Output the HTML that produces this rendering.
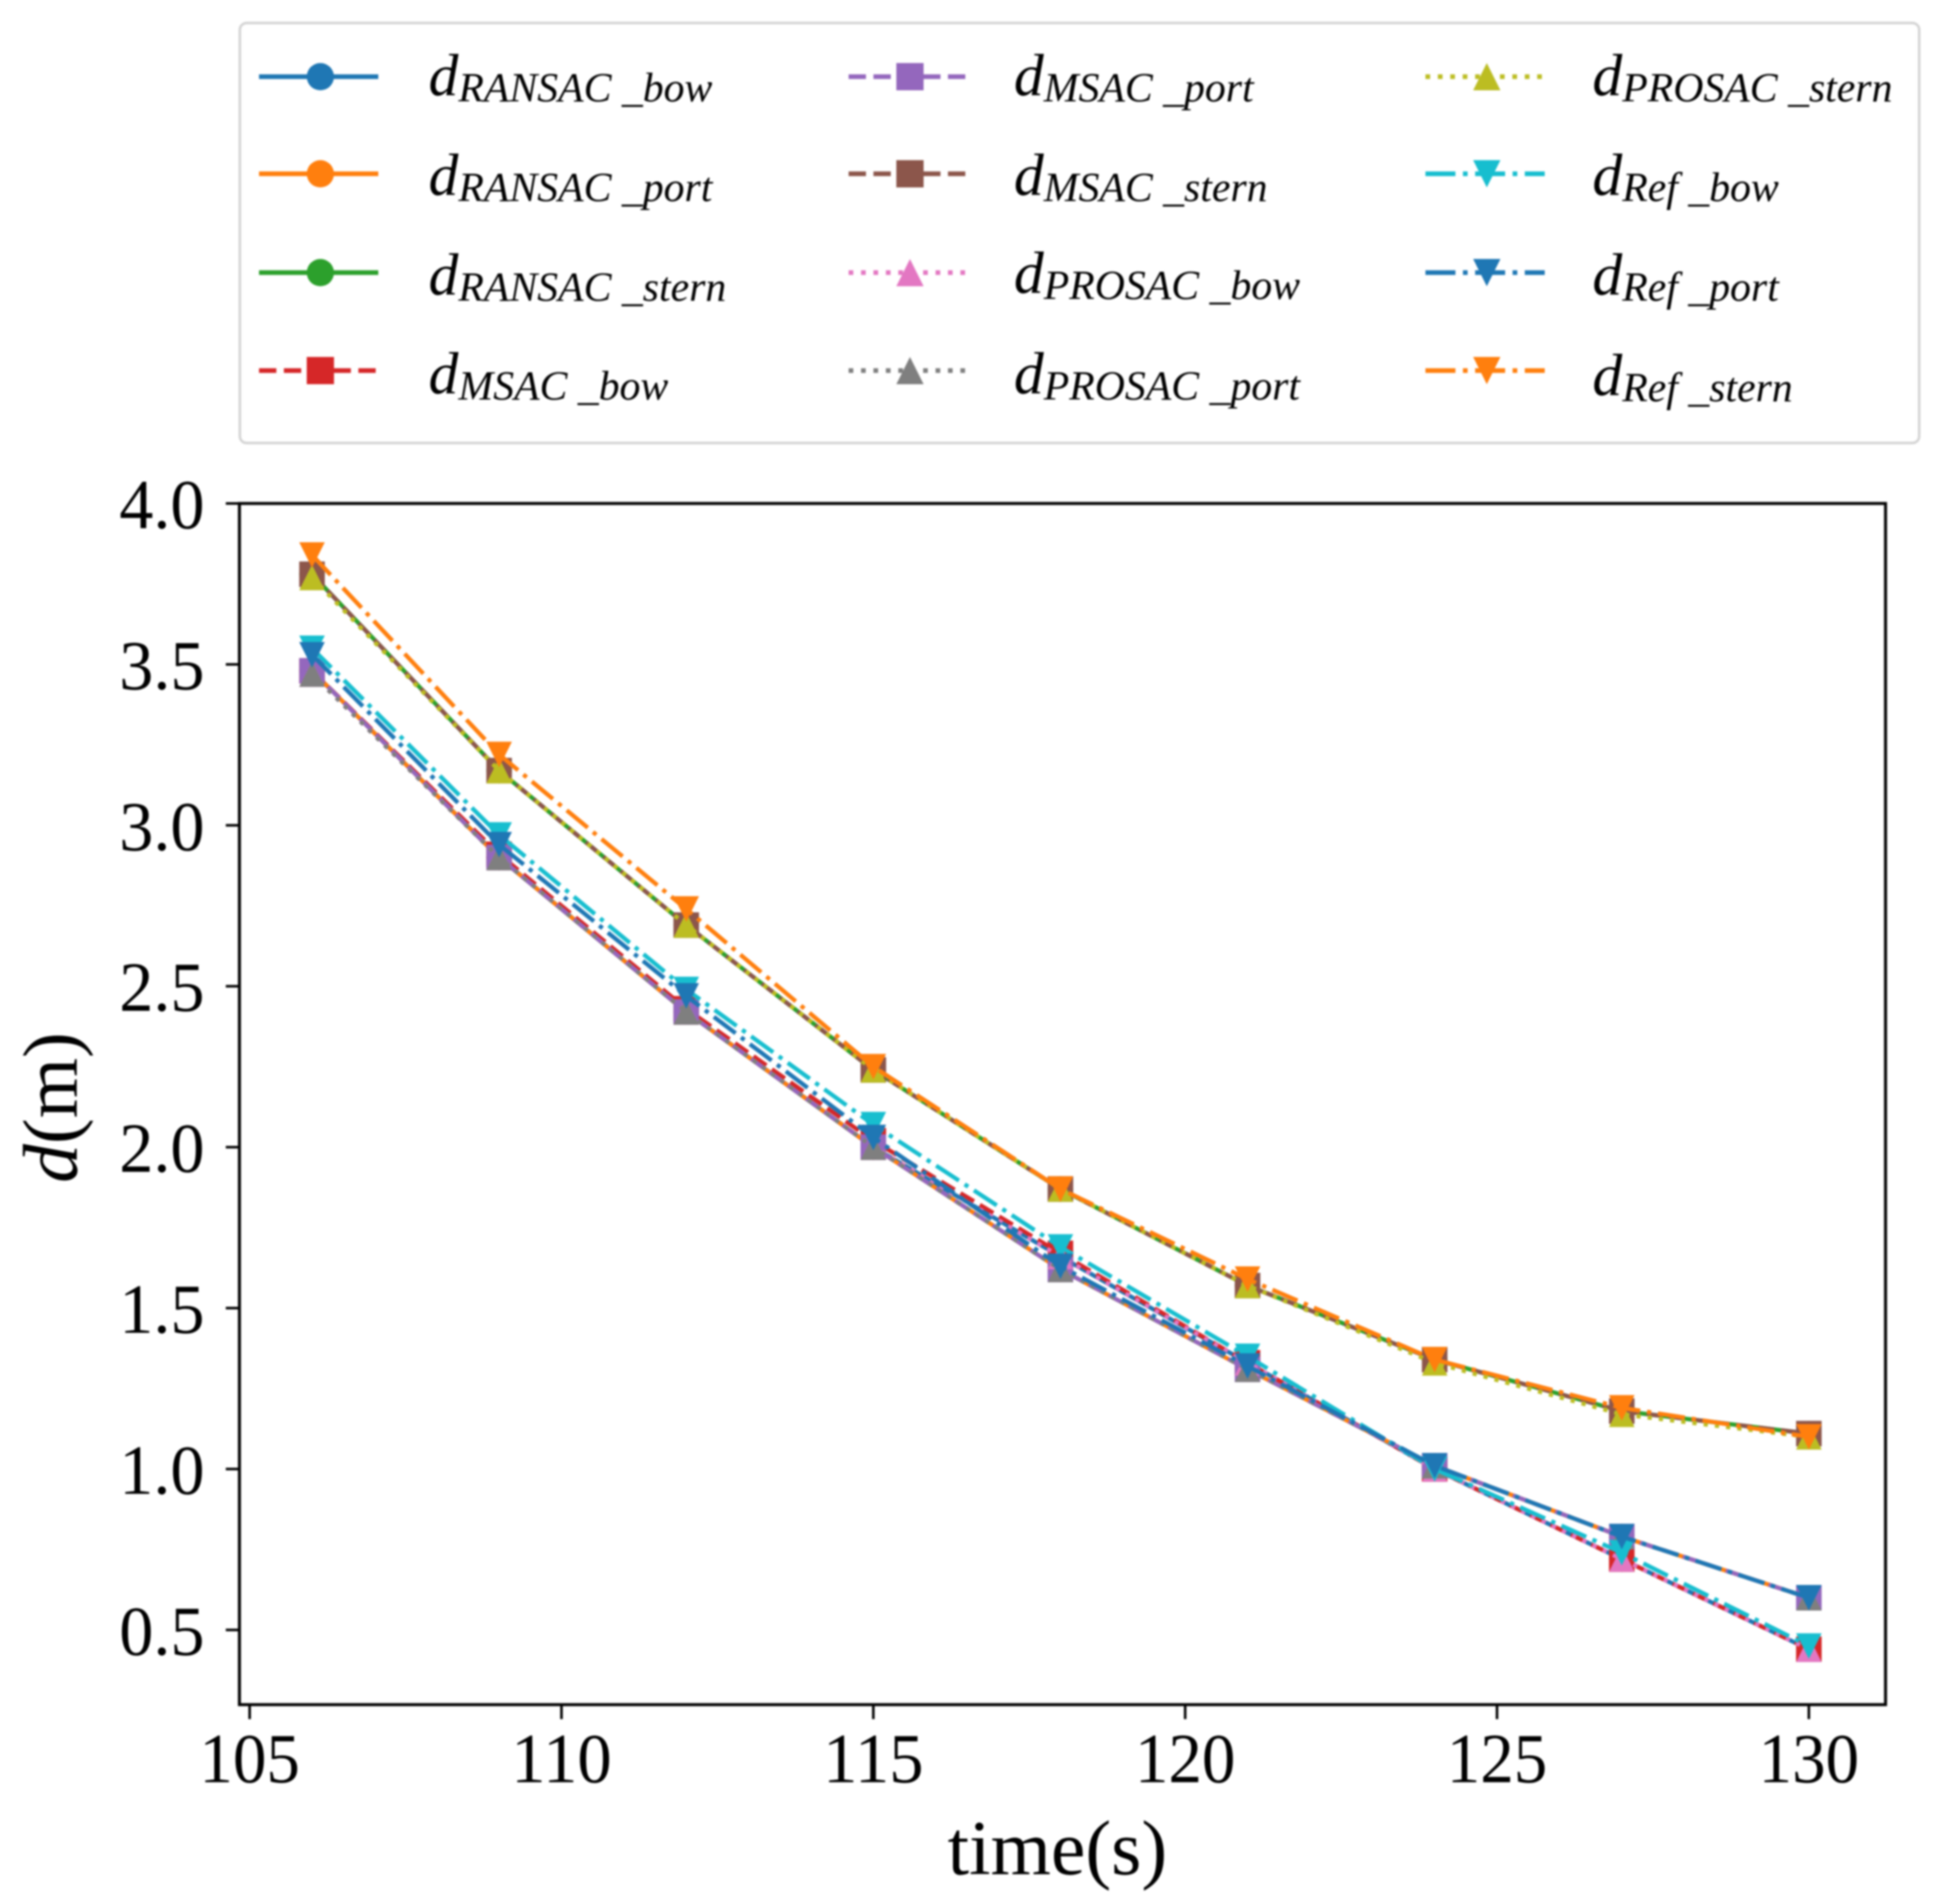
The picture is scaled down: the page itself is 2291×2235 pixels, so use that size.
<!DOCTYPE html>
<html>
<head>
<meta charset="utf-8">
<style>
html,body{margin:0;padding:0;background:#fff;width:2291px;height:2235px;overflow:hidden}
svg{display:block;filter:blur(1px)}
text{font-family:"Liberation Serif",serif;fill:#000}
.d{font-style:italic;font-size:70px}
.s{font-style:italic;font-size:49px}
</style>
</head>
<body>
<svg id="chart" xmlns="http://www.w3.org/2000/svg" width="2291" height="2235" viewBox="0 0 2291 2235">
  <rect x="281.5" y="27" width="1971" height="493" rx="8" ry="8" fill="#fff" stroke="#d4d4d4" stroke-width="3"/>
  <g id="legend-handles"></g>
  <g>
    <text x="503" y="112"><tspan class="d">d</tspan><tspan class="s" dy="7">RANSAC _bow</tspan></text>
    <text x="503" y="229"><tspan class="d">d</tspan><tspan class="s" dy="7">RANSAC _port</tspan></text>
    <text x="503" y="346"><tspan class="d">d</tspan><tspan class="s" dy="7">RANSAC _stern</tspan></text>
    <text x="503" y="462"><tspan class="d">d</tspan><tspan class="s" dy="7">MSAC _bow</tspan></text>
    <text x="1190" y="112"><tspan class="d">d</tspan><tspan class="s" dy="7">MSAC _port</tspan></text>
    <text x="1190" y="229"><tspan class="d">d</tspan><tspan class="s" dy="7">MSAC _stern</tspan></text>
    <text x="1190" y="344"><tspan class="d">d</tspan><tspan class="s" dy="7">PROSAC _bow</tspan></text>
    <text x="1190" y="462"><tspan class="d">d</tspan><tspan class="s" dy="7">PROSAC _port</tspan></text>
    <text x="1869" y="112"><tspan class="d">d</tspan><tspan class="s" dy="7">PROSAC _stern</tspan></text>
    <text x="1869" y="229"><tspan class="d">d</tspan><tspan class="s" dy="7">Ref _bow</tspan></text>
    <text x="1869" y="346"><tspan class="d">d</tspan><tspan class="s" dy="7">Ref _port</tspan></text>
    <text x="1869" y="464"><tspan class="d">d</tspan><tspan class="s" dy="7">Ref _stern</tspan></text>
  </g>
  <g id="plot-marks"></g>
  <rect x="281" y="591" width="1932" height="1410" fill="none" stroke="#000" stroke-width="3.5"/>
  <g id="axis-ticks"></g>
  <text x="1241" y="2200" text-anchor="middle" font-size="91">time(s)</text>
  <text transform="translate(90 1300) rotate(-90)" text-anchor="middle" font-size="91"><tspan font-style="italic">d</tspan>(m)</text>
</svg>
<script>
const times = [106, 109, 112, 115, 118, 121, 124, 127, 130];
const xTicks = [105, 110, 115, 120, 125, 130];
const yTicks = [0.5, 1.0, 1.5, 2.0, 2.5, 3.0, 3.5, 4.0];

const ransacBow = [3.48, 2.90, 2.42, 2.00, 1.66, 1.33, 1.00, 0.72, 0.44];
const ransacPort = [3.48, 2.90, 2.42, 2.00, 1.62, 1.31, 1.01, 0.79, 0.60];
const ransacStern = [3.78, 3.17, 2.69, 2.24, 1.87, 1.57, 1.34, 1.18, 1.11];
const msacBow = [3.48, 2.91, 2.43, 2.02, 1.67, 1.33, 1.00, 0.72, 0.44];
const msacPort = [3.48, 2.90, 2.42, 2.00, 1.62, 1.31, 1.01, 0.79, 0.60];
const msacStern = [3.78, 3.17, 2.69, 2.24, 1.87, 1.57, 1.34, 1.18, 1.11];
const prosacBow = [3.47, 2.90, 2.42, 2.00, 1.66, 1.33, 1.00, 0.72, 0.44];
const prosacPort = [3.47, 2.90, 2.42, 2.00, 1.62, 1.31, 1.01, 0.79, 0.60];
const prosacStern = [3.77, 3.17, 2.69, 2.24, 1.87, 1.57, 1.33, 1.17, 1.10];
const refBow = [3.55, 2.97, 2.49, 2.07, 1.69, 1.35, 1.00, 0.74, 0.45];
const refPort = [3.53, 2.94, 2.47, 2.03, 1.63, 1.32, 1.01, 0.79, 0.60];
const refStern = [3.84, 3.22, 2.74, 2.25, 1.87, 1.59, 1.34, 1.19, 1.10];

const seriesList = [
  {id:'ransac-bow', v:ransacBow, c:'#1f77b4', style:'solid', m:'circle'},
  {id:'ransac-port', v:ransacPort, c:'#ff7f0e', style:'solid', m:'circle'},
  {id:'ransac-stern', v:ransacStern, c:'#2ca02c', style:'solid', m:'circle'},
  {id:'msac-bow', v:msacBow, c:'#d62728', style:'dashed', m:'square'},
  {id:'msac-port', v:msacPort, c:'#9467bd', style:'dashed', m:'square'},
  {id:'msac-stern', v:msacStern, c:'#8c564b', style:'dashed', m:'square'},
  {id:'prosac-bow', v:prosacBow, c:'#e377c2', style:'dotted', m:'up'},
  {id:'prosac-port', v:prosacPort, c:'#7f7f7f', style:'dotted', m:'up'},
  {id:'prosac-stern', v:prosacStern, c:'#bcbd22', style:'dotted', m:'up'},
  {id:'ref-bow', v:refBow, c:'#17becf', style:'dashdot', m:'down'},
  {id:'ref-port', v:refPort, c:'#1f77b4', style:'dashdot', m:'down'},
  {id:'ref-stern', v:refStern, c:'#ff7f0e', style:'dashdot', m:'down'}
];

const NS = 'http://www.w3.org/2000/svg';
function xScale(t){ return 293 + (t - 105) * 73.2; }
function yScale(v){ return 591 + (4 - v) * 377.8; }
function mk(tag, attrs, parent){
  const e = document.createElementNS(NS, tag);
  for (const k in attrs) e.setAttribute(k, attrs[k]);
  parent.appendChild(e);
  return e;
}
function dash(style, lw){
  if (style === 'dashed') return (3.7*lw)+' '+(1.6*lw);
  if (style === 'dotted') return (1*lw)+' '+(1.65*lw);
  if (style === 'dashdot') return (6.4*lw)+' '+(1.6*lw)+' '+(1*lw)+' '+(1.6*lw);
  return 'none';
}
function marker(kind, cx, cy, size, color, parent){
  const h = size / 2;
  if (kind === 'circle') return mk('circle', {cx:cx, cy:cy, r:h, fill:color}, parent);
  if (kind === 'square') return mk('rect', {x:cx-h, y:cy-h, width:size, height:size, fill:color}, parent);
  if (kind === 'up') return mk('polygon', {points:(cx-h)+','+(cy+h)+' '+(cx+h)+','+(cy+h)+' '+cx+','+(cy-h), fill:color}, parent);
  return mk('polygon', {points:(cx-h)+','+(cy-h)+' '+(cx+h)+','+(cy-h)+' '+cx+','+(cy+h), fill:color}, parent);
}

const plot = document.getElementById('plot-marks');
seriesList.forEach(function(s){
  const g = mk('g', {}, plot);
  
  
  const pts = s.v.map(function(v, i){ return xScale(times[i]) + ',' + yScale(v); }).join(' ');
  const line = mk('polyline', {points:pts, fill:'none', stroke:s.c, 'stroke-width':5, 'stroke-dasharray':dash(s.style, 5)}, g);
  
  
  s.v.forEach(function(v, i){
    const p = marker(s.m, xScale(times[i]), yScale(v), 30, s.c, g);
    
    
  });
});

const ticks = document.getElementById('axis-ticks');
xTicks.forEach(function(t){
  const x = xScale(t);
  const l = mk('line', {x1:x, x2:x, y1:2001, y2:2018, stroke:'#000', 'stroke-width':3}, ticks);
  
  
  const lab = mk('text', {x:x, y:2092, 'text-anchor':'middle', 'font-size':83, textLength:118, lengthAdjust:'spacingAndGlyphs'}, ticks);
  
  
  lab.textContent = String(t);
});
yTicks.forEach(function(v){
  const y = yScale(v);
  const l = mk('line', {x1:265, x2:281, y1:y, y2:y, stroke:'#000', 'stroke-width':3}, ticks);
  
  
  const lab = mk('text', {x:240, y:y+29, 'text-anchor':'end', 'font-size':83, textLength:100, lengthAdjust:'spacingAndGlyphs'}, ticks);
  
  
  lab.textContent = v.toFixed(1);
});

const legendHandles = document.getElementById('legend-handles');
const legendColumns = [304, 996, 1673];
const legendRows = [90, 204, 320, 435];
seriesList.forEach(function(s, i){
  const col = Math.floor(i / 4), row = i % 4;
  const x0 = legendColumns[col], y = legendRows[row];
  const g = mk('g', {}, legendHandles);
  
  
  mk('line', {x1:x0, x2:x0+140, y1:y, y2:y, stroke:s.c, 'stroke-width':5.5, 'stroke-dasharray':dash(s.style, 5.5)}, g);
  marker(s.m, x0+72, y, 32, s.c, g);
});
</script>
</body>
</html>
